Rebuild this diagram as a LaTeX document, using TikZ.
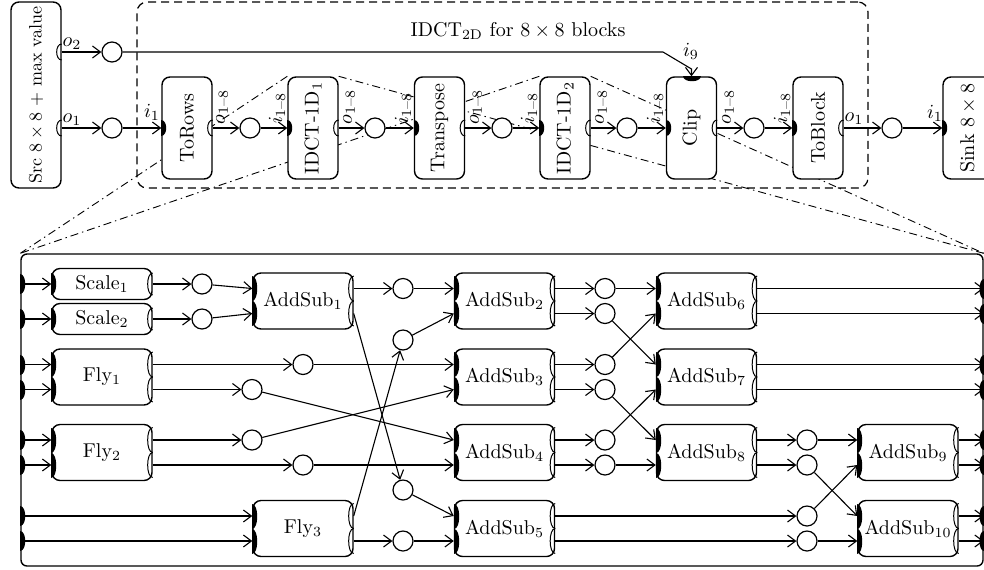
\documentclass[tikz,border=0pt]{standalone}
\usepackage{amsmath}
\usepackage{graphicx}
\usetikzlibrary{arrows.meta,calc,backgrounds}

% filled input port on a left edge, bulging right
\newcommand\dinport[2][12.5]{\fill[shift={(#2)}] (0,-#1) .. controls (6.7,-#1) and (6.7,#1) .. (0,#1) -- cycle;}
% filled input port on a right edge, bulging left
\newcommand\dinportR[2][10]{\fill[shift={(#2)}] (0,-#1) .. controls (-5.3,-#1) and (-5.3,#1) .. (0,#1) -- cycle;}
% open output port on a right edge, bulging left
\newcommand\doutport[2][12.5]{\draw[portline,shift={(#2)}] (0,-#1) .. controls (-6.7,-#1) and (-6.7,#1) .. (0,#1);}
% two inputs and two outputs of a butterfly-style actor
\newcommand\twoports[1]{%
  \coordinate (#1i1) at ($(#1.west)+(0,-12.5)$);
  \coordinate (#1i2) at ($(#1.west)+(0,12.5)$);
  \coordinate (#1o1) at ($(#1.east)+(0,-12.5)$);
  \coordinate (#1o2) at ($(#1.east)+(0,12.5)$);
  \dinport{#1i1}\dinport{#1i2}\doutport{#1o1}\doutport{#1o2}}
% single input/output of a tall actor
\newcommand\oneport[1]{%
  \coordinate (#1i) at (#1.west);
  \coordinate (#1o) at (#1.east);
  \dinport[8]{#1i}\doutport[8]{#1o}}

\begin{document}
\begin{tikzpicture}[x=0.5pt,y=-0.5pt,
  actor/.style={draw,line width=0.7pt,fill=white,rounded corners=4pt,inner sep=0pt},
  tallbox/.style={actor,minimum width=25pt,minimum height=51pt},
  widebox/.style={actor,minimum width=50pt,minimum height=28pt},
  thinbox/.style={actor,minimum width=50pt,minimum height=15.5pt},
  rel/.style={draw,circle,line width=0.6pt,fill=white,minimum size=10pt,inner sep=0pt},
  wire/.style={line width=0.55pt},
  arr/.style={wire,-{Straight Barb[length=4pt,width=6pt]}},
  portline/.style={line width=0.5pt},
  zoomline/.style={line width=0.45pt,dash pattern=on 4pt off 2pt on 0.7pt off 2pt},
  grpbox/.style={draw,line width=0.6pt,dash pattern=on 4pt off 2.5pt,rounded corners=5pt,inner sep=0pt},
  lbl/.style={inner sep=0pt}]
\useasboundingbox (0,0) rectangle (984,569);

% ---------- top level: composite IDCT_2D ----------
\node[grpbox,minimum width=365.5pt,minimum height=93pt] (grp) at (502.5,95) {};
\node[lbl] (title) at (518,31) {IDCT$_{\text{2D}}$ for $8\times 8$ blocks};

\node[tallbox,minimum height=93pt] (src) at (36,95)
  {\rotatebox{90}{\scalebox{0.9}{Src $8\times 8$ + max value}}};
\node[tallbox] (torows)  at (187,128)   {\rotatebox{90}{ToRows}};
\node[tallbox] (idctA)   at (313,128)   {\rotatebox{90}{IDCT-1D$_1$}};
\node[tallbox] (transp)  at (439.5,128) {\rotatebox{90}{Transpose}};
\node[tallbox] (idctB)   at (565,128)   {\rotatebox{90}{IDCT-1D$_2$}};
\node[tallbox] (clip)    at (691.5,128) {\rotatebox{90}{Clip}};
\node[tallbox] (toblock) at (818,128)   {\rotatebox{90}{ToBlock}};
\node[tallbox] (sink)    at (968,128)   {\rotatebox{90}{Sink $8\times 8$}};

% ---------- expanded IDCT-1D ----------
\node[draw,line width=0.7pt,rounded corners=3pt,minimum width=481pt,minimum height=156pt,inner sep=0pt] (big) at (502,410) {};

% zoom lines, behind the actors
\begin{scope}[on background layer]
  \draw[zoomline] (idctA.north west) -- (big.north west);
  \draw[zoomline] (idctB.north west) -- (big.north west);
  \draw[zoomline] (idctA.north east) -- (big.north east);
  \draw[zoomline] (idctB.north east) -- (big.north east);
\end{scope}

% top-level ports
\coordinate (srco2) at ($(src.east)+(0,-43)$);
\coordinate (srco1) at ($(src.east)+(0,33)$);
\doutport[8]{srco2}\doutport[8]{srco1}
\oneport{torows}\oneport{idctA}\oneport{transp}\oneport{idctB}\oneport{clip}\oneport{toblock}
\coordinate (sinki) at (sink.west);
\dinport[8]{sinki}
\coordinate (clipi9) at (clip.north);
\fill[shift={(clipi9)}] (-9,0) .. controls (-9,6.7) and (9,6.7) .. (9,0) -- cycle;

% top-level relations
\node[rel] (t2) at (112,52) {};
\node[rel] (t1) at (112,128) {};
\node[rel] (t3) at (250,128) {};
\node[rel] (t4) at (375,128) {};
\node[rel] (t5) at (502,128) {};
\node[rel] (t6) at (627,128) {};
\node[rel] (t7) at (754,128) {};
\node[rel] (t8) at (892,128) {};
\coordinate (bendA) at (663,52);
\coordinate (bendB) at (691.5,69);

\draw[arr] (srco1) -- (t1);
\draw[arr] (t1) -- (torowsi);
\draw[arr] (srco2) -- (t2);
\draw[arr] (t2) -- (bendA) -- (bendB) -- (clipi9);
\draw[arr] (torowso) -- (t3);
\draw[arr] (t3) -- (idctAi);
\draw[arr] (idctAo) -- (t4);
\draw[arr] (t4) -- (transpi);
\draw[arr] (transpo) -- (t5);
\draw[arr] (t5) -- (idctBi);
\draw[arr] (idctBo) -- (t6);
\draw[arr] (t6) -- (clipi);
\draw[arr] (clipo) -- (t7);
\draw[arr] (t7) -- (toblocki);
\draw[arr] (toblocko) -- (t8);
\draw[arr] (t8) -- (sinki);

% top-level port labels
\node[lbl] (lo2) at (72,44) {$o_2$};
\node[lbl] (lo1) at (72,120) {$o_1$};
\node[lbl] (li1) at (152,112) {$i_1$};
\node[lbl] (li9) at (691,51) {$i_9$};
\node[lbl] (lo1b) at (854,119) {$o_1$};
\node[lbl] (li1b) at (935,113) {$i_1$};
\foreach \x/\n in {222/a,349/b,476/c,601/d,728/e}
  \node[lbl,rotate=90] (lo\n) at (\x,107) {$o_{1\text{--}8}$};
\foreach \x/\n in {277/a,403/b,529/c,655/d,782/e}
  \node[lbl,rotate=90] (li\n) at (\x,108) {$i_{1\text{--}8}$};

% ---------- actors of IDCT-1D ----------
\node[thinbox] (scale1) at (102,284)   {Scale$_1$};
\node[thinbox] (scale2) at (102,319)   {Scale$_2$};
\node[widebox] (fly1)   at (102,377)   {Fly$_1$};
\node[widebox] (fly2)   at (102,452.5) {Fly$_2$};
\node[widebox] (as1)    at (303,301)   {AddSub$_1$};
\node[widebox] (fly3)   at (303,528.5) {Fly$_3$};
\node[widebox] (as2)    at (504.5,301)   {AddSub$_2$};
\node[widebox] (as3)    at (504.5,377)   {AddSub$_3$};
\node[widebox] (as4)    at (504.5,452.5) {AddSub$_4$};
\node[widebox] (as5)    at (504.5,528.5) {AddSub$_5$};
\node[widebox] (as6)    at (706.5,301)   {AddSub$_6$};
\node[widebox] (as7)    at (706.5,377)   {AddSub$_7$};
\node[widebox] (as8)    at (706.5,452.5) {AddSub$_8$};
\node[widebox] (as9)    at (908,452.5)   {AddSub$_9$};
\node[widebox] (as10)   at (908,528.5)   {AddSub$_{10}$};

\coordinate (s1i) at (scale1.west); \coordinate (s1o) at (scale1.east);
\coordinate (s2i) at (scale2.west); \coordinate (s2o) at (scale2.east);
\dinport[11]{s1i}\doutport[11]{s1o}\dinport[11]{s2i}\doutport[11]{s2o}
\twoports{fly1}\twoports{fly2}\twoports{fly3}
\twoports{as1}\twoports{as2}\twoports{as3}\twoports{as4}\twoports{as5}
\twoports{as6}\twoports{as7}\twoports{as8}\twoports{as9}\twoports{as10}

% ports of the composite
\coordinate (b1) at (big.west |- s1i);
\coordinate (b2) at (big.west |- s2i);
\coordinate (b3) at (big.west |- fly1i1);
\coordinate (b4) at (big.west |- fly1i2);
\coordinate (b5) at (big.west |- fly2i1);
\coordinate (b6) at (big.west |- fly2i2);
\coordinate (b7) at (big.west |- fly3i1);
\coordinate (b8) at (big.west |- fly3i2);
\foreach \p in {b1,b2,b3,b4,b5,b6,b7,b8} {\dinport[10]{\p}}
\coordinate (e1) at (big.east |- as6o1);
\coordinate (e2) at (big.east |- as6o2);
\coordinate (e3) at (big.east |- as7o1);
\coordinate (e4) at (big.east |- as7o2);
\coordinate (e5) at (big.east |- as9o1);
\coordinate (e6) at (big.east |- as9o2);
\coordinate (e7) at (big.east |- as10o1);
\coordinate (e8) at (big.east |- as10o2);
\foreach \p in {e1,e2,e3,e4,e5,e6,e7,e8} {\dinportR[10]{\p}}

% relations of IDCT-1D
\node[rel] (cs1) at (202,284) {};
\node[rel] (cs2) at (202,319) {};
\node[rel] (cf1a) at (303,364.5) {};
\node[rel] (cf1b) at (252,389.5) {};
\node[rel] (cf2a) at (252,440) {};
\node[rel] (cf2b) at (303,465) {};
\node[rel] (ca1a) at (403,288.5) {};
\node[rel] (cf3a) at (403,340) {};
\node[rel] (ca1b) at (403,490) {};
\node[rel] (cf3b) at (403,541) {};
\node[rel] (c2a) at (605,288.5) {};
\node[rel] (c2b) at (605,313.5) {};
\node[rel] (c3a) at (605,364.5) {};
\node[rel] (c3b) at (605,389.5) {};
\node[rel] (c4a) at (605,440) {};
\node[rel] (c4b) at (605,465) {};
\node[rel] (c8a) at (807,440) {};
\node[rel] (c8b) at (807,465) {};
\node[rel] (c5a) at (807,516) {};
\node[rel] (c5b) at (807,541) {};

% connections of IDCT-1D
\draw[arr] (b1) -- (s1i);
\draw[arr] (b2) -- (s2i);
\draw[arr] (b3) -- (fly1i1);
\draw[arr] (b4) -- (fly1i2);
\draw[arr] (b5) -- (fly2i1);
\draw[arr] (b6) -- (fly2i2);
\draw[arr] (b7) -- (fly3i1);
\draw[arr] (b8) -- (fly3i2);

\draw[arr] (s1o) -- (cs1);   \draw[arr] (cs1) -- (as1i1);
\draw[arr] (s2o) -- (cs2);   \draw[arr] (cs2) -- (as1i2);
\draw[arr] (fly1o1) -- (cf1a); \draw[arr] (cf1a) -- (as3i1);
\draw[arr] (fly1o2) -- (cf1b); \draw[arr] (cf1b) -- (as4i1);
\draw[arr] (fly2o1) -- (cf2a); \draw[arr] (cf2a) -- (as3i2);
\draw[arr] (fly2o2) -- (cf2b); \draw[arr] (cf2b) -- (as4i2);
\draw[arr] (as1o1) -- (ca1a);  \draw[arr] (ca1a) -- (as2i1);
\draw[arr] (as1o2) -- (ca1b);  \draw[arr] (ca1b) -- (as5i1);
\draw[arr] (fly3o1) -- (cf3a); \draw[arr] (cf3a) -- (as2i2);
\draw[arr] (fly3o2) -- (cf3b); \draw[arr] (cf3b) -- (as5i2);

\draw[arr] (as2o1) -- (c2a); \draw[arr] (c2a) -- (as6i1);
\draw[arr] (as2o2) -- (c2b); \draw[arr] (c2b) -- (as7i1);
\draw[arr] (as3o1) -- (c3a); \draw[arr] (c3a) -- (as6i2);
\draw[arr] (as3o2) -- (c3b); \draw[arr] (c3b) -- (as8i1);
\draw[arr] (as4o1) -- (c4a); \draw[arr] (c4a) -- (as7i2);
\draw[arr] (as4o2) -- (c4b); \draw[arr] (c4b) -- (as8i2);
\draw[arr] (as5o1) -- (c5a); \draw[arr] (c5a) -- (as9i2);
\draw[arr] (as5o2) -- (c5b); \draw[arr] (c5b) -- (as10i2);
\draw[arr] (as8o1) -- (c8a); \draw[arr] (c8a) -- (as9i1);
\draw[arr] (as8o2) -- (c8b); \draw[arr] (c8b) -- (as10i1);

\draw[arr] (as6o1) -- (e1);
\draw[arr] (as6o2) -- (e2);
\draw[arr] (as7o1) -- (e3);
\draw[arr] (as7o2) -- (e4);
\draw[arr] (as9o1) -- (e5);
\draw[arr] (as9o2) -- (e6);
\draw[arr] (as10o1) -- (e7);
\draw[arr] (as10o2) -- (e8);
\end{tikzpicture}
\end{document}
